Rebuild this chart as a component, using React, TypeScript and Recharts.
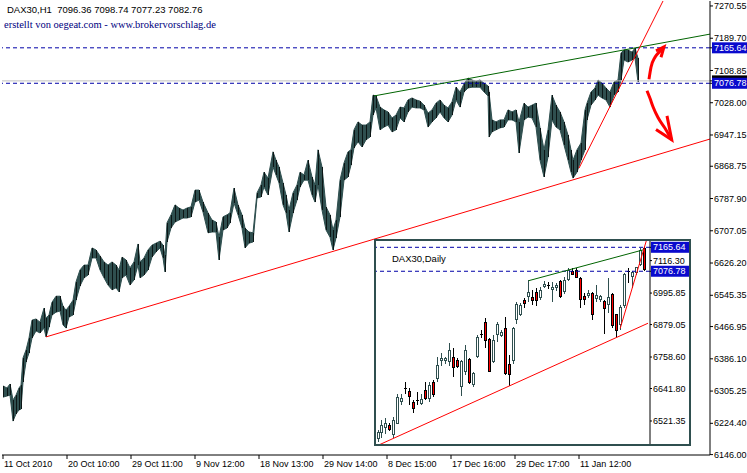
import React from 'react';
import {
  ComposedChart,
  Area,
  Bar,
  Line,
  XAxis,
  YAxis,
  ReferenceLine,
} from 'recharts';

const hBar = [
  0, 4, 7, 10, 13, 16, 18, 20, 23, 26, 29, 33, 37, 41, 43, 46, 49, 53, 57, 60,
  63, 66, 70, 73, 77, 81, 85, 89, 93, 97, 101, 105, 109, 113, 116, 119, 123, 127, 131, 135,
  137, 141, 145, 149, 153, 157, 160, 162, 164, 168, 172, 176, 180, 184, 188, 192, 196, 200, 205, 209,
  213, 216, 220, 224, 227, 231, 235, 239, 242, 246, 250, 254, 258, 261, 265, 270, 273, 276, 280, 283,
  286, 290, 294, 297, 301, 305, 309, 312, 315, 319, 323, 327, 330, 333, 337, 341, 345, 348, 351, 355,
  359, 363, 367, 370, 373, 377, 381, 385, 389, 393, 397, 401, 405, 409, 413, 417, 421, 425, 429, 433,
  437, 441, 445, 449, 453, 457, 461, 465, 469, 473, 477, 481, 485, 486, 489, 493, 497, 501, 505, 509,
  513, 516, 521, 525, 529, 533, 537, 541, 545, 549, 553, 557, 561, 565, 568, 570, 574, 578, 582, 584,
  588, 592, 595, 599, 603, 607, 611, 615, 618, 621, 625, 629, 632, 635,
];
const hLow = [
  6290, 6293, 6295, 6230, 6248, 6258, 6260, 6328, 6378, 6401, 6438, 6456, 6451, 6463, 6441, 6466, 6496, 6503, 6506, 6471,
  6463, 6491, 6496, 6533, 6569, 6589, 6596, 6639, 6639, 6609, 6589, 6571, 6559, 6564, 6554, 6589, 6596, 6571, 6584, 6621,
  6589, 6596, 6609, 6641, 6654, 6664, 6639, 6604, 6679, 6714, 6729, 6734, 6739, 6739, 6742, 6779, 6784, 6754, 6702, 6704,
  6704, 6634, 6709, 6714, 6727, 6777, 6747, 6714, 6664, 6676, 6679, 6789, 6792, 6817, 6797, 6867, 6847, 6827, 6772, 6752,
  6704, 6752, 6784, 6817, 6834, 6834, 6797, 6779, 6822, 6759, 6709, 6691, 6659, 6689, 6742, 6834, 6842, 6872, 6915, 6930,
  6917, 6935, 6942, 6997, 7015, 6960, 6967, 6972, 6955, 6960, 6990, 6980, 7005, 7017, 7015, 7015, 7010, 6967, 6980, 6990,
  7005, 6990, 6980, 6997, 7035, 7017, 7055, 7065, 7067, 7067, 7067, 7055, 7045, 6942, 6955, 6960, 6965, 6967, 6985, 6985,
  6980, 6902, 6985, 6992, 6990, 6967, 6884, 6842, 6892, 6985, 6967, 6960, 6922, 6884, 6854, 6839, 6854, 6884, 6910, 6985,
  7022, 7035, 7047, 7040, 7035, 7017, 7047, 7055, 7085, 7135, 7130, 7135, 7140, 7080,
];
const hHigh = [
  6318, 6313, 6323, 6283, 6295, 6313, 6320, 6388, 6408, 6438, 6483, 6486, 6478, 6513, 6488, 6496, 6528, 6543, 6543, 6518,
  6508, 6518, 6533, 6579, 6609, 6621, 6621, 6664, 6659, 6644, 6629, 6621, 6629, 6621, 6609, 6641, 6634, 6614, 6629, 6674,
  6629, 6639, 6659, 6671, 6676, 6681, 6671, 6646, 6727, 6747, 6772, 6764, 6759, 6764, 6767, 6809, 6809, 6779, 6752, 6734,
  6729, 6691, 6742, 6747, 6752, 6814, 6772, 6747, 6714, 6704, 6702, 6802, 6822, 6854, 6839, 6905, 6884, 6867, 6827, 6797,
  6759, 6802, 6822, 6854, 6847, 6884, 6842, 6822, 6910, 6867, 6767, 6747, 6709, 6734, 6834, 6877, 6905, 6910, 6960, 6980,
  6972, 6972, 6980, 7047, 7045, 7017, 7010, 7005, 6990, 6997, 7017, 7015, 7035, 7040, 7035, 7032, 7022, 7002, 7010, 7027,
  7035, 7022, 7015, 7030, 7067, 7055, 7075, 7090, 7085, 7082, 7085, 7077, 7070, 7055, 6985, 6980, 6985, 6985, 7010, 7005,
  7010, 6980, 7027, 7017, 7022, 7027, 6965, 6910, 6960, 7047, 7022, 7005, 6980, 6947, 6910, 6884, 6910, 6927, 7010, 7027,
  7055, 7065, 7085, 7077, 7065, 7055, 7080, 7085, 7153, 7160, 7160, 7155, 7165, 7140,
];

const xTickBars = [0, 64, 128, 192, 256, 320, 384, 448, 512, 576];
const xTickLabels = [
  '11 Oct 2010', '20 Oct 10:00', '29 Oct 11:00', '9 Nov 12:00', '18 Nov 13:00',
  '29 Nov 14:00', '8 Dec 15:00', '17 Dec 16:00', '29 Dec 17:00', '11 Jan 12:00',
];

const yTicks = [
  7270.55, 7189.7, 7108.85, 7028.0, 6947.15, 6868.75, 6787.9, 6707.05,
  6626.2, 6545.35, 6466.95, 6386.1, 6305.25, 6224.4, 6146.0,
];
const upperLevel = 7165.64;
const lowerLevel = 7076.78;
const bid = 7082.76;

// trend lines, [bar, price]
const greenTrend = [[371, 7045], [707, 7200]];
const redTrend = [[43, 6441], [707, 6937]];
const steepTrend = [[576, 6864], [660, 7283]];

// hand drawn arrows, [bar, price]
const arrowUp = [[646, 7087], [648, 7117], [652, 7142], [657, 7157], [661, 7168]];
const arrowUpHead = [[653, 7158], [661, 7168], [658, 7142]];
const arrowDown = [[644, 7058], [647, 7039], [650, 7018], [655, 6991], [662, 6964], [668.7, 6935]];
const arrowDownHead = [[664, 6995], [668.7, 6935], [653, 6961]];

// DAX30 Daily (inset)
const dOpen = [
  6457, 6476, 6494, 6507, 6470, 6513, 6593, 6643, 6633, 6590, 6600, 6583, 6636, 6603, 6667, 6677, 6744, 6744, 6739, 6758,
  6748, 6649, 6704, 6750, 6652, 6760, 6843, 6890, 6826, 6739, 6840, 6840, 6865, 6732, 6744, 6896, 6915, 6970, 6983, 6983,
  6999, 6976, 7020, 7027, 7007, 7014, 7041, 7001, 7044, 7078, 7082, 7053, 6986, 6985, 6995, 6974, 6970, 6967, 6952, 6991,
  6917, 6877, 6945, 7076, 7053, 7069, 7100, 7162,
];
const dHigh = [
  6488, 6525, 6531, 6515, 6538, 6620, 6620, 6667, 6643, 6599, 6630, 6620, 6667, 6667, 6674, 6760, 6772, 6760, 6810, 6791,
  6754, 6748, 6803, 6754, 6704, 6840, 6859, 6902, 6828, 6840, 6890, 6859, 6908, 6766, 6871, 6964, 6958, 6976, 7044, 7007,
  7014, 7020, 7041, 7036, 7038, 7032, 7044, 7057, 7088, 7088, 7088, 7057, 6995, 7007, 7001, 7026, 6989, 6970, 7051, 6995,
  6918, 6952, 7069, 7088, 7078, 7094, 7162, 7168,
];
const dLow = [
  6445, 6457, 6470, 6485, 6460, 6507, 6581, 6624, 6581, 6550, 6581, 6578, 6599, 6593, 6612, 6667, 6723, 6735, 6723, 6682,
  6717, 6615, 6692, 6657, 6649, 6754, 6828, 6791, 6702, 6735, 6816, 6834, 6692, 6652, 6735, 6884, 6908, 6939, 6964, 6952,
  6946, 6970, 7014, 7011, 6964, 7001, 6979, 6995, 7038, 7063, 7051, 6942, 6952, 6976, 6896, 6964, 6964, 6843, 6921, 6865,
  6834, 6859, 6939, 7032, 7014, 7065, 7097, 7078,
];
const dClose = [
  6482, 6507, 6513, 6488, 6525, 6612, 6608, 6641, 6612, 6565, 6598, 6602, 6602, 6655, 6618, 6729, 6756, 6754, 6785, 6719,
  6723, 6744, 6785, 6661, 6698, 6834, 6842, 6818, 6704, 6822, 6880, 6853, 6695, 6692, 6868, 6955, 6952, 6954, 7001, 6970,
  6964, 7007, 7030, 7025, 7017, 7026, 6983, 7044, 7082, 7065, 7053, 6970, 6970, 6997, 6915, 6989, 6985, 6939, 6983, 6871,
  6855, 6945, 7065, 7074, 7073, 7091, 7156, 7082,
];
const insetTicks = [7116.3, 6995.85, 6879.05, 6758.6, 6641.8, 6521.35];
const insetGreen = [[38, 7042], [67, 7157]];
const insetRed = [[0, 6431], [68, 6884]];
const insetSteep = [[61, 6865], [68, 7211]];

const SLATE = '#2F4F4F';
const LEVEL = '#0000A8';
const BOX = '#0A0ACD';
const FONT = '"Liberation Sans", Arial, sans-serif';

function priceTick(boxes: Record<string, string>, silent: string[]) {
  return (props: any) => {
    const { x, y, payload } = props;
    const v = Number(payload.value);
    const label = v.toFixed(2);
    const box = boxes[label];
    if (box) {
      return (
        <g>
          <rect x={x - 2} y={y - 5.5} width={40} height={11} fill={box} />
          {silent.includes(label) ? null : (
            <text x={x} y={y} dy="0.35em" fill="#fff" fontSize={9} fontFamily={FONT}>
              {label}
            </text>
          )}
        </g>
      );
    }
    return (
      <text x={x} y={y} dy="0.35em" fill="#000" fontSize={9} fontFamily={FONT}>
        {label}
      </text>
    );
  };
}

function TimeTick(props: any) {
  const { x, y, payload } = props;
  const k = xTickBars.indexOf(payload.value);
  return (
    <text x={x + 1} y={y} dy="0.71em" fill="#000" fontSize={9} fontFamily={FONT}>
      {xTickLabels[k]}
    </text>
  );
}

// hourly bar: a thin dark stroke from low to high, on top of the band
function HourBar(props: any) {
  const { x, y, width, height, payload } = props;
  if (!payload || x == null) return <g />;
  const top = Math.round(Math.min(y, y + height));
  const h = Math.max(Math.round(Math.abs(height)), 1);
  const c = Math.round(x + width / 2);
  return <rect x={c} y={top} width={1} height={h} fill="#0c1616" />;
}

function Wick(props: any) {
  const { x, y, width, height, payload } = props;
  if (!payload || payload.wick == null || x == null) return <g />;
  const top = Math.round(Math.min(y, y + height));
  const h = Math.max(Math.round(Math.abs(height)), 1);
  const c = Math.round(x + width / 2);
  return <rect x={c} y={top} width={1} height={h} fill={payload.up ? SLATE : '#000'} />;
}

function Body(props: any) {
  const { x, y, width, height, payload } = props;
  if (!payload || payload.body == null || x == null) return <g />;
  const top = Math.round(Math.min(y, y + height));
  const h = Math.round(Math.abs(height));
  const left = Math.round(x + width / 2) - 1;
  const stroke = payload.up ? SLATE : '#000';
  if (h < 2) {
    return <line x1={left} x2={left + 3} y1={top + 0.5} y2={top + 0.5} stroke={stroke} />;
  }
  return (
    <rect
      x={left + 0.5}
      y={top + 0.5}
      width={2}
      height={h - 1}
      fill={payload.up ? '#fff' : '#FF0000'}
      stroke={stroke}
      strokeWidth={1}
    />
  );
}

const toPts = (arr: number[][]) => arr.map(([b, p]) => ({ b, p }));
const seg = (arr: number[][]) => arr.map(([x, y]) => ({ x, y }));

export default function App() {
  const rows = hBar.map((b, k) => ({ b, range: [hLow[k], hHigh[k]] }));
  const dRows: any[] = dOpen.map((o, i) => {
    const c = dClose[i];
    const lo = Math.min(o, c);
    const hi = Math.max(o, c);
    return {
      i,
      up: c >= o,
      wick: [dLow[i], dHigh[i]],
      body: [lo, Math.max(hi, lo + 1)],
    };
  });
  dRows.push({ i: dOpen.length, up: true, wick: null, body: null });

  const mainBoxes: Record<string, string> = {
    [bid.toFixed(2)]: '#000',
    [upperLevel.toFixed(2)]: BOX,
    [lowerLevel.toFixed(2)]: BOX,
  };
  const insetBoxes: Record<string, string> = {
    [upperLevel.toFixed(2)]: BOX,
    [lowerLevel.toFixed(2)]: BOX,
  };

  return (
    <div style={{ position: 'absolute', left: 0, top: 0, width: 747, height: 473, background: '#fff', overflow: 'hidden' }}>
      <ComposedChart width={747} height={473} data={rows} margin={{ top: 1, right: 0, bottom: 0, left: 2 }}>
        <XAxis
          dataKey="b"
          type="number"
          domain={[-1, 707]}
          allowDataOverflow
          ticks={xTickBars}
          interval={0}
          tick={<TimeTick />}
          tickSize={4}
          tickMargin={2}
          height={18}
          axisLine={{ stroke: '#000' }}
          tickLine={{ stroke: '#000' }}
        />
        <XAxis
          xAxisId="top"
          orientation="top"
          dataKey="b"
          type="number"
          domain={[-1, 707]}
          allowDataOverflow
          height={0}
          tick={false}
          tickLine={false}
          axisLine={{ stroke: '#000' }}
        />
        <YAxis
          orientation="right"
          domain={[6145, 7283]}
          allowDataOverflow
          ticks={[...yTicks, bid, upperLevel, lowerLevel]}
          interval={0}
          width={37}
          tick={priceTick(mainBoxes, [bid.toFixed(2)])}
          tickSize={3}
          tickMargin={1}
          axisLine={{ stroke: '#000' }}
          tickLine={{ stroke: '#000' }}
        />
        <YAxis
          yAxisId="left"
          orientation="left"
          width={0}
          domain={[6145, 7283]}
          tick={false}
          tickLine={false}
          axisLine={{ stroke: '#000' }}
        />
        <ReferenceLine y={bid} stroke="#C0C0C0" />
        <ReferenceLine y={upperLevel} stroke={LEVEL} strokeDasharray="4 3" />
        <ReferenceLine y={lowerLevel} stroke={LEVEL} strokeDasharray="4 3" />
        <Area
          dataKey="range"
          type="linear"
          stroke={SLATE}
          strokeWidth={1}
          fill={SLATE}
          fillOpacity={1}
          isAnimationActive={false}
        />
        <Bar dataKey="range" barSize={2} shape={<HourBar />} isAnimationActive={false} />
        <ReferenceLine segment={seg(greenTrend)} stroke="#006400" ifOverflow="hidden" />
        <ReferenceLine segment={seg(redTrend)} stroke="#FF0000" ifOverflow="hidden" />
        <ReferenceLine segment={seg(steepTrend)} stroke="#FF0000" ifOverflow="hidden" />
        <Line data={toPts(arrowUp)} dataKey="p" type="monotone" stroke="#FF0000" strokeWidth={3} dot={false} isAnimationActive={false} />
        <Line data={toPts(arrowUpHead)} dataKey="p" type="linear" stroke="#FF0000" strokeWidth={3} dot={false} isAnimationActive={false} />
        <Line data={toPts(arrowDown)} dataKey="p" type="monotone" stroke="#FF0000" strokeWidth={3} dot={false} isAnimationActive={false} />
        <Line data={toPts(arrowDownHead)} dataKey="p" type="linear" stroke="#FF0000" strokeWidth={3} dot={false} isAnimationActive={false} />
      </ComposedChart>

      <div
        style={{
          position: 'absolute',
          left: 374,
          top: 239,
          width: 317,
          height: 207,
          boxSizing: 'border-box',
          border: `2px solid ${SLATE}`,
          background: '#fff',
        }}
      >
        <ComposedChart width={313} height={203} data={dRows} margin={{ top: 0, right: 0, bottom: 0, left: 0 }}>
          <XAxis xAxisId="a" dataKey="i" type="category" hide />
          <XAxis xAxisId="b" dataKey="i" type="category" hide />
          <YAxis
            orientation="right"
            domain={[6436, 7189]}
            allowDataOverflow
            ticks={[...insetTicks, upperLevel, lowerLevel]}
            interval={0}
            width={39}
            tick={priceTick(insetBoxes, [])}
            tickSize={2}
            tickMargin={1}
            axisLine={{ stroke: '#000' }}
            tickLine={{ stroke: '#000' }}
          />
          <ReferenceLine xAxisId="a" y={upperLevel} stroke={LEVEL} strokeDasharray="4 3" />
          <ReferenceLine xAxisId="a" y={lowerLevel} stroke={LEVEL} strokeDasharray="4 3" />
          <ReferenceLine xAxisId="a" segment={seg(insetGreen)} stroke="#006400" ifOverflow="hidden" />
          <ReferenceLine xAxisId="a" segment={seg(insetRed)} stroke="#FF0000" ifOverflow="hidden" />
          <ReferenceLine xAxisId="a" segment={seg(insetSteep)} stroke="#FF0000" ifOverflow="hidden" />
          <Bar xAxisId="a" dataKey="wick" barSize={1} shape={<Wick />} isAnimationActive={false} />
          <Bar xAxisId="b" dataKey="body" barSize={3} shape={<Body />} isAnimationActive={false} />
        </ComposedChart>
      </div>

      <svg width={747} height={473} style={{ position: 'absolute', left: 0, top: 0, pointerEvents: 'none' }}>
        <text x={7} y={13.3} fontSize={9.5} fontFamily={FONT} fill="#000" xmlSpace="preserve">
          DAX30,H1  7096.36 7098.74 7077.23 7082.76
        </text>
        <text x={4} y={28} fontSize={10.5} fontFamily='"Liberation Serif", serif' fill="#000080">
          erstellt von oegeat.com - www.brokervorschlag.de
        </text>
        <text x={392} y={261.5} fontSize={9.5} fontFamily={FONT} fill="#000">
          DAX30,Daily
        </text>
      </svg>
    </div>
  );
}
